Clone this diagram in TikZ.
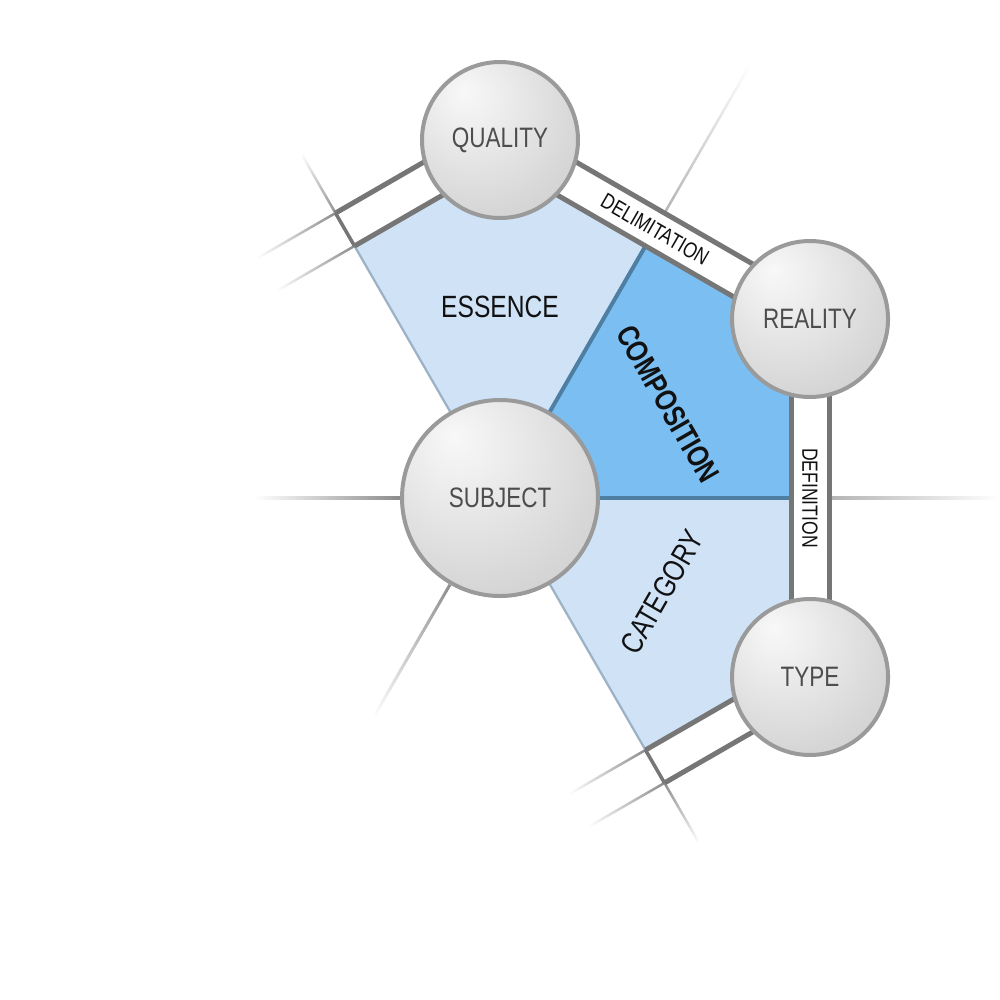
\documentclass[tikz,border=0pt]{standalone}
\usepackage{fontspec}
\setmainfont{Liberation Sans}[FakeStretch=0.8]
\usetikzlibrary{calc}
\definecolor{bandgray}{HTML}{767676}
\definecolor{fadegray}{HTML}{8C8C8C}
\definecolor{lightgrayline}{HTML}{B4B4B4}
\definecolor{lightfill}{HTML}{CFE2F6}
\definecolor{compfill}{HTML}{7BBFF2}
\definecolor{compedge}{HTML}{4E7FA3}
\definecolor{softedge}{HTML}{9DB2C6}
\definecolor{ringgray}{HTML}{9A9A9A}
\definecolor{labelgray}{HTML}{4D4D4D}
\definecolor{inkdark}{HTML}{111111}
\definecolor{sA}{HTML}{F8F8F8}
\definecolor{sB}{HTML}{EEEEEE}
\definecolor{sC}{HTML}{D6D6D6}
\definecolor{sD}{HTML}{B6B6B6}
\pgfdeclareradialshading{sphere}{\pgfpoint{-12bp}{16bp}}{color(0bp)=(sA); color(10bp)=(sB); color(32bp)=(sC); color(70bp)=(sD)}
% #1 from, #2 to, #3 width, #4 colour at left end, #5 colour at right end
\newcommand{\fadeln}[5]{%
  \path let \p1=($(#2)-(#1)$), \n1={atan2(\y1,\x1)}, \n2={veclen(\x1,\y1)} in
    node[fadebar, rotate=\n1, minimum width=\n2, minimum height=#3, left color=#4, right color=#5] at ($(#1)!0.5!(#2)$) {};%
}
\tikzset{
  fadebar/.style={rectangle, inner sep=0pt, outer sep=0pt, draw=none},
  bandline/.style={draw=bandgray, line width=1mm},
  crossline/.style={draw=bandgray, line width=0.7mm},
  ball/.style={circle, shade, shading=sphere, draw=ringgray, line width=0.8mm, inner sep=0pt, text=labelgray, font=\fontsize{16}{19}\selectfont},
  regionlabel/.style={text=inkdark, font=\fontsize{17.5}{20}\selectfont},
  bandlabel/.style={text=inkdark, font=\fontsize{12.5}{14}\selectfont}
}
\begin{document}
\begin{tikzpicture}[x=0.2mm,y=0.2mm]
\useasboundingbox (0,0) rectangle (1000,-1000);
\fill[white] (0,0) rectangle (1000,-1000);
\coordinate (S) at (500,-498);
% regions
\begin{scope}[shift={(S)}]
  \coordinate (c0) at (0,0);
  \coordinate (e60) at (60:291);
  \coordinate (e120) at (120:291);
  \coordinate (e0) at (0:291);
  \coordinate (e300) at (-60:291);
  \coordinate (v90) at (90:336.02);
  \coordinate (v30) at (30:336.02);
  \coordinate (vm30) at (-30:336.02);
  \coordinate (r180a) at (180:100);
  \coordinate (r180b) at (180:245);
  \coordinate (r240a) at (240:100);
  \coordinate (r240b) at (240:252);
\end{scope}
\fill[lightfill] (c0) -- (e60) -- (v90) -- (e120) -- cycle;
\fill[lightfill] (c0) -- (e0) -- (vm30) -- (e300) -- cycle;
\fill[compfill] (c0) -- (e60) -- (v30) -- (e0) -- cycle;
\draw[softedge, line width=0.45mm] (c0) -- (e120);
\draw[softedge, line width=0.45mm] (c0) -- (e300);
\draw[compedge, line width=0.8mm] (c0) -- (e60);
\draw[compedge, line width=0.8mm] (c0) -- (e0);
% Quality - Reality band (delimitation)
\begin{scope}[shift={(S)}, rotate=60]
  \coordinate (qrI1) at (291,-179); \coordinate (qrI2) at (291,179);
  \coordinate (qrO1) at (329,-179); \coordinate (qrO2) at (329,179);
  \coordinate (r60a) at (329,0); \coordinate (r60b) at (497,0);
  \coordinate (dlab) at (310,0);
\end{scope}
% Reality - Type band (definition)
\begin{scope}[shift={(S)}]
  \coordinate (rtI1) at (291,-179); \coordinate (rtI2) at (291,179);
  \coordinate (rtO1) at (329,-179); \coordinate (rtO2) at (329,179);
  \coordinate (r0a) at (329,0); \coordinate (r0b) at (500,0);
  \coordinate (flab) at (310,0);
\end{scope}
% Quality - left band
\begin{scope}[shift={(S)}, rotate=120]
  \coordinate (qlI1) at (291,-179); \coordinate (qlI2) at (291,0); \coordinate (qlI3) at (291,90);
  \coordinate (qlO1) at (329,-179); \coordinate (qlO2) at (329,0); \coordinate (qlO3) at (329,90);
  \coordinate (r120b) at (396,0);
\end{scope}
% Type - left band
\begin{scope}[shift={(S)}, rotate=-60]
  \coordinate (tlI1) at (291,179); \coordinate (tlI2) at (291,0); \coordinate (tlI3) at (291,-88);
  \coordinate (tlO1) at (329,179); \coordinate (tlO2) at (329,0); \coordinate (tlO3) at (329,-88);
  \coordinate (r300b) at (396,0);
\end{scope}
% fading lines (the shading runs left to right on the page)
\fadeln{qlI2}{qlI3}{0.5mm}{white}{fadegray}
\fadeln{qlO2}{qlO3}{0.5mm}{white}{fadegray}
\fadeln{tlI2}{tlI3}{0.5mm}{white}{fadegray}
\fadeln{tlO2}{tlO3}{0.5mm}{white}{fadegray}
\fadeln{qlO2}{r120b}{0.5mm}{white}{fadegray}
\fadeln{tlO2}{r300b}{0.5mm}{fadegray}{white}
\fadeln{r60a}{r60b}{0.5mm}{lightgrayline}{white}
\fadeln{r0a}{r0b}{0.55mm}{lightgrayline}{white}
\fadeln{r180a}{r180b}{0.6mm}{white}{fadegray}
\fadeln{r240a}{r240b}{0.6mm}{white}{fadegray}
% crossing segments
\draw[crossline] (qlI2) -- (qlO2);
\draw[crossline] (tlI2) -- (tlO2);
% band lines
\draw[bandline] (qrI1) -- (qrI2);
\draw[bandline] (qrO1) -- (qrO2);
\draw[bandline] (rtI1) -- (rtI2);
\draw[bandline] (rtO1) -- (rtO2);
\draw[bandline] (qlI1) -- (qlI2);
\draw[bandline] (qlO1) -- (qlO2);
\draw[bandline] (tlI1) -- (tlI2);
\draw[bandline] (tlO1) -- (tlO2);
% labels
\node[bandlabel, rotate=-30] (delim) at (dlab) {DELIMITATION};
\node[bandlabel, rotate=-90] (defin) at (flab) {DEFINITION};
\node[regionlabel] (ess) at (500,-307) {ESSENCE};
\node[regionlabel, rotate=-60] (comp) at (668,-404) {\bfseries COMPOSITION};
\node[regionlabel, rotate=60] (cat) at (662,-592) {CATEGORY};
% circles
\begin{scope}[shift={(S)}]
  \node[ball, minimum size=31.2mm] (q) at (90:358) {QUALITY};
  \node[ball, minimum size=31.2mm] (r) at (30:358) {REALITY};
  \node[ball, minimum size=31.2mm] (t) at (-30:358) {TYPE};
  \node[ball, minimum size=39.2mm] (s) at (0,0) {SUBJECT};
\end{scope}
\end{tikzpicture}
\end{document}
